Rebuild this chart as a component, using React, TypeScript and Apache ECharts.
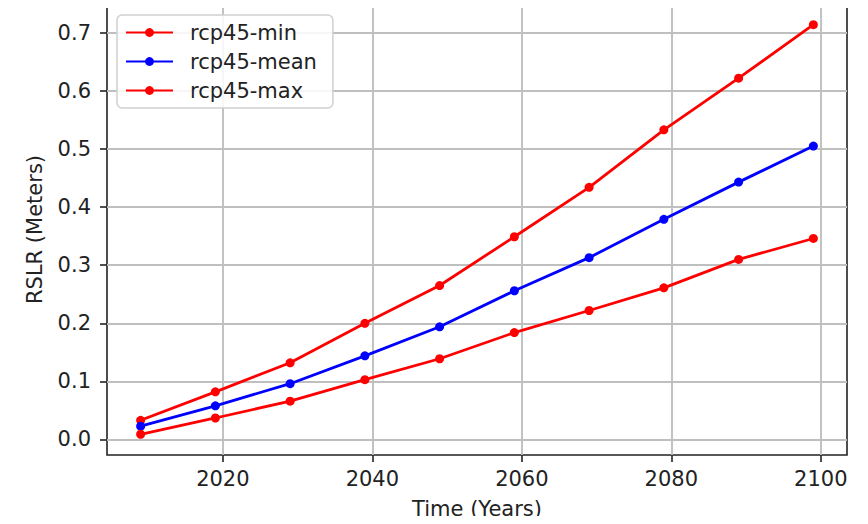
import React, { useEffect, useRef } from "react";
import * as echarts from "echarts";

const years = [2009, 2019, 2029, 2039, 2049, 2059, 2069, 2079, 2089, 2099];
const rcp45Min = [0.033, 0.082, 0.132, 0.2, 0.265, 0.349, 0.434, 0.533, 0.622, 0.714];
const rcp45Mean = [0.023, 0.058, 0.096, 0.144, 0.194, 0.256, 0.313, 0.379, 0.443, 0.505];
const rcp45Max = [0.009, 0.037, 0.066, 0.103, 0.139, 0.184, 0.222, 0.261, 0.31, 0.346];
const xTicks = [2020, 2040, 2060, 2080, 2100];
const yTicks = [0, 0.1, 0.2, 0.3, 0.4, 0.5, 0.6, 0.7];

const FONT = "DejaVu Sans";
const FS = 21;

function mk(name: string, vals: number[], color: string) {
  return {
    name,
    type: "line",
    data: years.map((y, i) => [y, vals[i]]),
    symbol: "circle",
    symbolSize: 9,
    showSymbol: true,
    lineStyle: { color, width: 2.8 },
    itemStyle: { color },
    z: 3,
  };
}

export default function App() {
  const ref = useRef<HTMLDivElement>(null);
  useEffect(() => {
    if (!ref.current) return;
    const chart = echarts.init(ref.current, undefined, { renderer: "svg" });
    chart.setOption({
      animation: false,
      backgroundColor: "#fff",
      textStyle: { fontFamily: FONT },
      grid: {
        left: 107,
        right: 21,
        top: 4,
        bottom: 66,
        containLabel: false,
        show: true,
        borderColor: "#222",
        borderWidth: 1.6,
        backgroundColor: "transparent",
      },
      xAxis: {
        type: "value",
        min: 2004.5,
        max: 2103.5,
        name: "Time (Years)",
        nameLocation: "middle",
        nameGap: 43,
        nameTextStyle: { fontSize: FS, color: "#222", fontFamily: FONT },
        axisLine: { show: false, onZero: false },
        axisTick: { show: true, inside: false, length: 7, customValues: xTicks, lineStyle: { color: "#222", width: 1.6 } },
        axisLabel: {
          customValues: xTicks,
          fontSize: FS,
          color: "#222",
          margin: 13,
          fontFamily: FONT,
          formatter: (v: number) => String(v),
        },
        splitLine: { show: true, lineStyle: { color: "#bfbfbf", width: 1.9 } },
      },
      yAxis: {
        type: "value",
        min: -0.0267,
        max: 0.7496,
        name: "RSLR (Meters)",
        nameLocation: "middle",
        nameGap: 62,
        nameTextStyle: { fontSize: FS, color: "#222", fontFamily: FONT },
        axisLine: { show: false, onZero: false },
        axisTick: { show: true, inside: false, length: 7, customValues: yTicks, lineStyle: { color: "#222", width: 1.6 } },
        axisLabel: {
          customValues: yTicks,
          fontSize: FS,
          color: "#222",
          margin: 16,
          fontFamily: FONT,
          formatter: (v: number) => v.toFixed(1),
        },
        splitLine: { show: true, lineStyle: { color: "#bfbfbf", width: 1.9 } },
      },
      legend: {
        orient: "vertical",
        left: 117,
        top: 15,
        padding: [6, 16, 6, 8],
        itemGap: 6,
        itemWidth: 47,
        itemHeight: 11,
        backgroundColor: "rgba(255,255,255,0.85)",
        borderColor: "#d0d0d0",
        borderWidth: 1.5,
        borderRadius: 5,
        textStyle: { fontSize: FS, color: "#222", fontFamily: FONT, lineHeight: 23, padding: [0, 0, 0, 12] },
        data: ["rcp45-min", "rcp45-mean", "rcp45-max"],
      },
      series: [
        mk("rcp45-min", rcp45Min, "#ff0000"),
        mk("rcp45-mean", rcp45Mean, "#0000ff"),
        mk("rcp45-max", rcp45Max, "#ff0000"),
      ],
    });
    return () => chart.dispose();
  }, []);
  return <div ref={ref} style={{ width: 868, height: 524, margin: -8 }} />;
}
